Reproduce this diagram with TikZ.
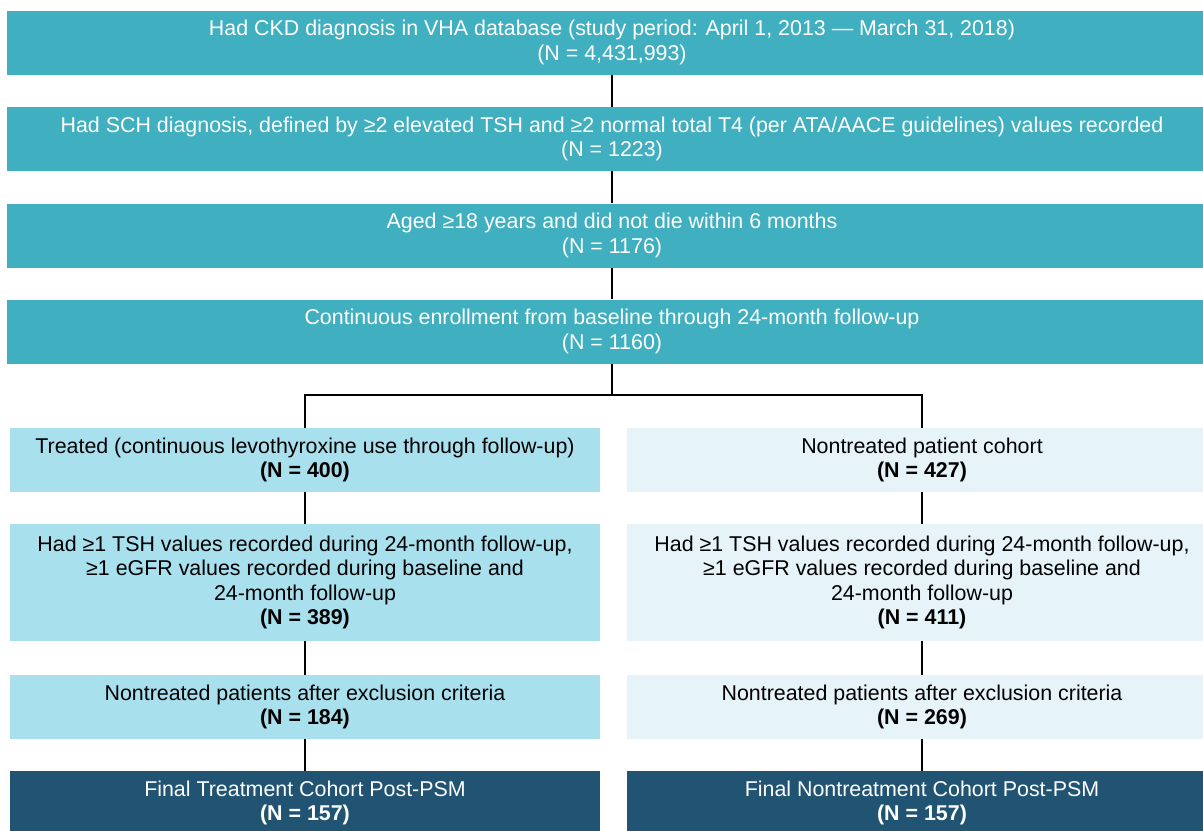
\documentclass[tikz,border=0pt]{standalone}
\usepackage{fontspec}
\setmainfont{Liberation Sans}
\usetikzlibrary{positioning}

\definecolor{tealbox}{HTML}{40AFBF}
\definecolor{treatbox}{HTML}{A8E0EE}
\definecolor{nonbox}{HTML}{E6F4FA}
\definecolor{finalbox}{HTML}{215473}

\tikzset{
  topbox/.style={fill=tealbox, text=white, minimum width=605pt, minimum height=32pt, align=center, inner sep=0pt},
  treatstep/.style={fill=treatbox, text=black, minimum width=295pt, minimum height=32pt, align=center, inner sep=0pt},
  nonstep/.style={fill=nonbox, text=black, minimum width=295pt, minimum height=32pt, align=center, inner sep=0pt},
  finalstep/.style={fill=finalbox, text=white, minimum width=295pt, minimum height=32pt, align=center, inner sep=0pt},
  link/.style={draw=black, line width=0.75pt}
}

\begin{document}
\begin{tikzpicture}[x=0.5pt, y=-0.5pt, font=\fontsize{10.7}{12.2}\selectfont]
  \useasboundingbox (0,0) rectangle (1203,830);

  % main stream
  \node[topbox] (ckd) at (612,42.5) {Had CKD diagnosis in VHA database (study period: April 1, 2013 — March 31, 2018)\\(N = 4,431,993)};
  \node[topbox] (sch) at (612,139) {Had SCH diagnosis, defined by ≥2 elevated TSH and ≥2 normal total T4 (per ATA/AACE guidelines) values recorded\\(N = 1223)};
  \node[topbox] (age) at (612,235.5) {Aged ≥18 years and did not die within 6 months\\(N = 1176)};
  \node[topbox] (enrol) at (612,331.5) {Continuous enrollment from baseline through 24-month follow-up\\(N = 1160)};
  \coordinate (split) at (612,395);

  % treated arm
  \node[treatstep] (treat) at (305,460) {Treated (continuous levothyroxine use through follow-up)\\\textbf{(N = 400)}};
  \node[treatstep, minimum height=58.5pt] (treatlab) at (305,582.5) {Had ≥1 TSH values recorded during 24-month follow-up,\\≥1 eGFR values recorded during baseline and\\24-month follow-up\\\textbf{(N = 389)}};
  \node[treatstep] (treatexcl) at (305,707) {Nontreated patients after exclusion criteria\\\textbf{(N = 184)}};
  \node[finalstep] (treatfinal) at (305,803) {Final Treatment Cohort Post-PSM\\\textbf{(N = 157)}};

  % nontreated arm
  \node[nonstep] (non) at (922,460) {Nontreated patient cohort\\\textbf{(N = 427)}};
  \node[nonstep, minimum height=58.5pt] (nonlab) at (922,582.5) {Had ≥1 TSH values recorded during 24-month follow-up,\\≥1 eGFR values recorded during baseline and\\24-month follow-up\\\textbf{(N = 411)}};
  \node[nonstep] (nonexcl) at (922,707) {Nontreated patients after exclusion criteria\\\textbf{(N = 269)}};
  \node[finalstep] (nonfinal) at (922,803) {Final Nontreatment Cohort Post-PSM\\\textbf{(N = 157)}};

  \draw[link] (ckd) -- (sch);
  \draw[link] (sch) -- (age);
  \draw[link] (age) -- (enrol);
  \draw[link] (enrol) -- (split);
  \draw[link] (treat.north) |- (split) -| (non.north);

  \draw[link] (treat) -- (treatlab);
  \draw[link] (treatlab) -- (treatexcl);
  \draw[link] (treatexcl) -- (treatfinal);
  \draw[link] (non) -- (nonlab);
  \draw[link] (nonlab) -- (nonexcl);
  \draw[link] (nonexcl) -- (nonfinal);
\end{tikzpicture}
\end{document}
